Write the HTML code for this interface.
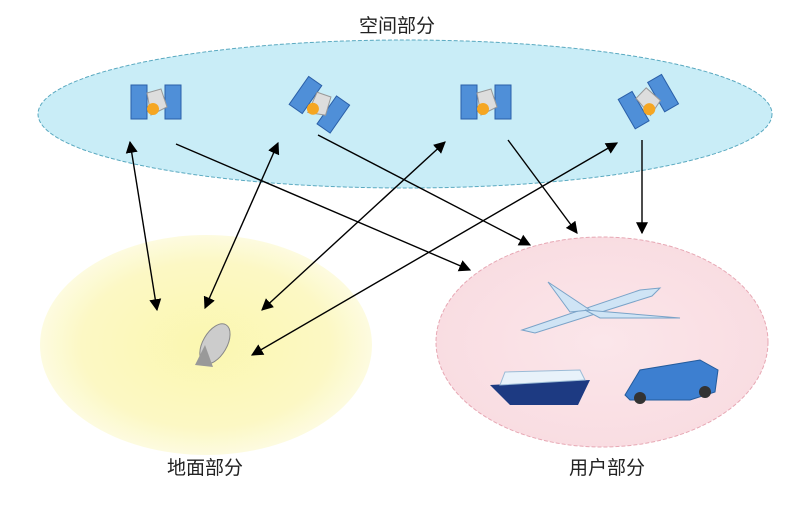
<!DOCTYPE html>
<html><head><meta charset="utf-8"><style>
body{margin:0;background:#fff;width:796px;height:500px;overflow:hidden}
text{font-family:"Liberation Sans","Noto Sans CJK SC",sans-serif;font-size:19px;fill:#222}
</style></head><body>
<svg width="796" height="500" viewBox="0 0 796 500" xmlns="http://www.w3.org/2000/svg">
<defs>
<radialGradient id="gy" cx="50%" cy="50%" r="50%"><stop offset="0" stop-color="#fbf7b0"/><stop offset="0.75" stop-color="#fcf8c4"/><stop offset="1" stop-color="#fdfbe0"/></radialGradient>
<radialGradient id="gp" cx="50%" cy="50%" r="50%"><stop offset="0" stop-color="#fbe6ea"/><stop offset="1" stop-color="#f9dde2"/></radialGradient>
<marker id="a" viewBox="0 0 10 10" refX="9" refY="5" markerWidth="12" markerHeight="12" markerUnits="userSpaceOnUse" orient="auto-start-reverse"><path d="M0,0L10,5L0,10z" fill="#000"/></marker>
<g id="sat">
<rect x="-24" y="-18" width="16" height="34" fill="#4f8fd8" stroke="#2a5fa8"/>
<rect x="10" y="-18" width="16" height="34" fill="#4f8fd8" stroke="#2a5fa8"/>
<path d="M-8,-10L6,-14L12,4L-4,12z" fill="#ddd" stroke="#999"/>
<circle cx="-2" cy="6" r="6" fill="#f5a623"/>
</g>
</defs>
<ellipse cx="405" cy="114" rx="367" ry="74" fill="#c9edf7" stroke="#5aa9c0" stroke-dasharray="4 2"/>
<ellipse cx="206" cy="345" rx="166" ry="110" fill="url(#gy)"/>
<ellipse cx="602" cy="342" rx="166" ry="105" fill="url(#gp)" stroke="#e7a8b4" stroke-dasharray="4 2"/>
<use href="#sat" transform="translate(155,103)"/>
<use href="#sat" transform="translate(318,105) rotate(35)"/>
<use href="#sat" transform="translate(485,103)"/>
<use href="#sat" transform="translate(648,103) rotate(-30)"/>
<g transform="translate(205,345)">
<ellipse cx="8" cy="-6" rx="12" ry="22" transform="rotate(30)" fill="#ccc" stroke="#888"/>
<path d="M-10,20L0,0L8,22z" fill="#999"/>
</g>
<g fill="#cfe4f5" stroke="#7aa3c8">
<path d="M522,330L640,290L660,288L652,296L535,333z"/>
<path d="M548,282L590,310L570,312z"/>
<path d="M585,310L680,318L600,318z"/>
</g>
<path d="M490,385L590,380L578,405L510,405z" fill="#1d3a82"/>
<path d="M505,372L580,370L585,380L500,385z" fill="#e8f2fa" stroke="#9bbbd6"/>
<path d="M625,395L640,370L700,360L718,370L715,392L690,400L630,400z" fill="#3d7fd0" stroke="#235b9c"/>
<circle cx="640" cy="398" r="6" fill="#333"/><circle cx="705" cy="392" r="6" fill="#333"/>
<g stroke="#000" stroke-width="1.4" fill="none">
<line x1="130" y1="142" x2="157" y2="310" marker-start="url(#a)" marker-end="url(#a)"/>
<line x1="278" y1="143" x2="205" y2="308" marker-start="url(#a)" marker-end="url(#a)"/>
<line x1="445" y1="142" x2="262" y2="310" marker-start="url(#a)" marker-end="url(#a)"/>
<line x1="617" y1="143" x2="252" y2="355" marker-start="url(#a)" marker-end="url(#a)"/>
<line x1="176" y1="144" x2="470" y2="270" marker-end="url(#a)"/>
<line x1="318" y1="135" x2="530" y2="245" marker-end="url(#a)"/>
<line x1="508" y1="140" x2="577" y2="233" marker-end="url(#a)"/>
<line x1="642" y1="140" x2="642" y2="233" marker-end="url(#a)"/>
</g>
<text x="397" y="32" text-anchor="middle">空间部分</text>
<text x="205" y="474" text-anchor="middle">地面部分</text>
<text x="607" y="474" text-anchor="middle">用户部分</text>
</svg>
</body></html>
